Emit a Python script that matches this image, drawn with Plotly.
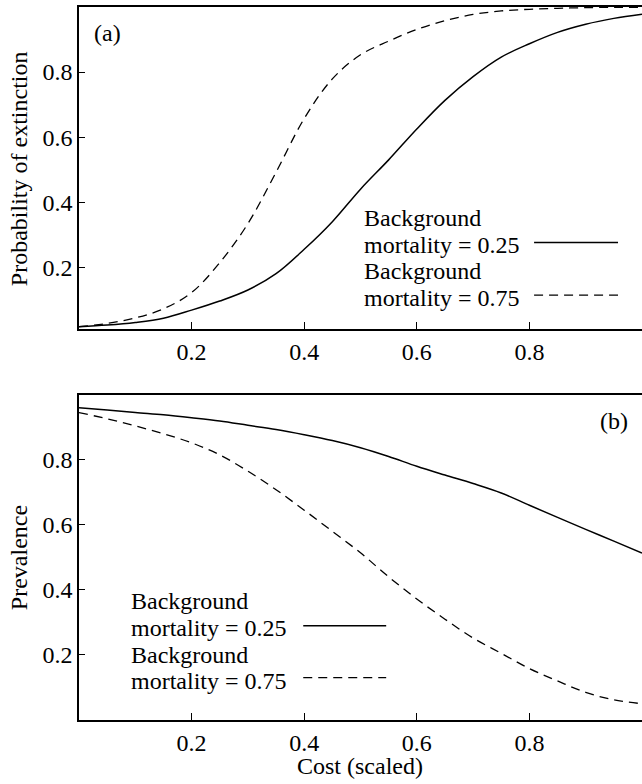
import plotly.graph_objects as go

# ---------------- data ----------------
cost = [0, 0.05, 0.1, 0.15, 0.2, 0.25, 0.3, 0.35, 0.4, 0.45, 0.5,
        0.55, 0.6, 0.65, 0.7, 0.75, 0.8, 0.85, 0.9, 0.95, 1.0]

ext_m025 = [0.017, 0.022, 0.030, 0.043, 0.068, 0.096, 0.130, 0.180, 0.255, 0.340, 0.440,
            0.530, 0.625, 0.713, 0.786, 0.846, 0.887, 0.922, 0.947, 0.965, 0.978]
ext_m075 = [0.017, 0.027, 0.044, 0.072, 0.122, 0.214, 0.334, 0.492, 0.657, 0.779, 0.853,
            0.895, 0.931, 0.958, 0.977, 0.988, 0.993, 0.996, 0.998, 0.999, 0.999]

prev_m025 = [0.960, 0.953, 0.945, 0.938, 0.929, 0.919, 0.906, 0.893, 0.877, 0.859, 0.837,
             0.810, 0.780, 0.753, 0.727, 0.698, 0.660, 0.623, 0.586, 0.550, 0.513]
prev_m075 = [0.945, 0.926, 0.904, 0.880, 0.852, 0.815, 0.765, 0.708, 0.645, 0.580, 0.514,
             0.440, 0.372, 0.310, 0.252, 0.205, 0.158, 0.120, 0.085, 0.062, 0.050]

series_names = ["Background<br>mortality = 0.25", "Background<br>mortality = 0.75"]
tick_vals = [0.2, 0.4, 0.6, 0.8]
tick_text = ["0.2", "0.4", "0.6", "0.8"]
y_titles = ["Probability of extinction", "Prevalence"]
x_title = "Cost (scaled)"
panel_labels = ["(a)", "(b)"]

# ---------------- layout constants (pixels) ----------------
W, H = 642, 784
L, R, T, B = 78.6, 0, 7.3, 63.7
PW = W - L - R
PH = H - T - B
FONT = "Liberation Serif"
FS = 24
DASH = "9px,6px"


def px_x(px):
    return (px - L) / PW


def px_y(py):
    return (H - B - py) / PH


top_dom = [px_y(329.3), 1.0]
bot_dom = [0.0, px_y(395.0)]

fig = go.Figure()

solid = dict(color="black", width=1.5)
dashed = dict(color="black", width=1.3, dash=DASH)

fig.add_trace(go.Scatter(x=cost, y=ext_m025, mode="lines", line=dict(**solid, shape="spline"),
                         xaxis="x", yaxis="y", showlegend=False))
fig.add_trace(go.Scatter(x=cost, y=ext_m075, mode="lines", line=dict(**dashed, shape="spline"),
                         xaxis="x", yaxis="y", showlegend=False))
fig.add_trace(go.Scatter(x=cost, y=prev_m025, mode="lines", line=dict(**solid, shape="spline"),
                         xaxis="x2", yaxis="y2", showlegend=False))
fig.add_trace(go.Scatter(x=cost, y=prev_m075, mode="lines", line=dict(**dashed, shape="spline"),
                         xaxis="x2", yaxis="y2", showlegend=False))

axis_common = dict(
    showgrid=False, zeroline=False, showline=True, linecolor="black", linewidth=1.5,
    ticks="inside", tickcolor="black", tickwidth=1.3,
    tickfont=dict(family=FONT, size=FS, color="black"),
)

fig.update_layout(
    width=W, height=H,
    margin=dict(l=L, r=R, t=T, b=B),
    paper_bgcolor="white", plot_bgcolor="white",
    font=dict(family=FONT, size=FS, color="black"),
    xaxis=dict(**axis_common, domain=[0, 1], range=[0, 1], anchor="y", mirror=True,
               tickvals=tick_vals, ticktext=tick_text, ticklen=7),
    yaxis=dict(**axis_common, domain=top_dom, range=[0.01, 1.0], anchor="x",
               tickvals=tick_vals, ticktext=tick_text, ticklen=6),
    xaxis2=dict(**axis_common, domain=[0, 1], range=[0, 1], anchor="y2", mirror=True,
                tickvals=tick_vals, ticktext=tick_text, ticklen=7),
    yaxis2=dict(**axis_common, domain=bot_dom, range=[0, 1.0], anchor="x2",
                tickvals=tick_vals, ticktext=tick_text, ticklen=6),
)

txt_font = dict(family=FONT, size=FS, color="black")

# axis titles
fig.add_annotation(text=y_titles[0], xref="paper", yref="paper", x=px_x(18.5), y=px_y(168.5),
                   textangle=-90, xanchor="center", yanchor="middle", showarrow=False, font=txt_font)
fig.add_annotation(text=y_titles[1], xref="paper", yref="paper", x=px_x(18.5), y=px_y(557.5),
                   textangle=-90, xanchor="center", yanchor="middle", showarrow=False, font=txt_font)
fig.add_annotation(text=x_title, xref="paper", yref="paper", x=px_x(360), y=px_y(766),
                   xanchor="center", yanchor="middle", showarrow=False, font=txt_font)

# panel labels
fig.add_annotation(text=panel_labels[0], xref="paper", yref="paper", x=px_x(92), y=px_y(33),
                   xanchor="left", yanchor="middle", showarrow=False, font=txt_font)
fig.add_annotation(text=panel_labels[1], xref="paper", yref="paper", x=px_x(630), y=px_y(421),
                   xanchor="right", yanchor="middle", showarrow=False, font=txt_font)

# hand-drawn keys (text left, line sample right)
keys = [
    (361.5, 218.3, 534, 618, 242.7, series_names[0], None),
    (361.5, 271.7, 534, 618, 295.5, series_names[1], DASH),
    (129.0, 601.7, 303, 386, 626.0, series_names[0], None),
    (129.0, 655.0, 303, 386, 678.0, series_names[1], DASH),
]
for tx, ty, lx0, lx1, ly, name, dash in keys:
    lines = name.split("<br>")
    for i, ln in enumerate(lines):
        fig.add_annotation(text=ln, xref="paper", yref="paper", x=px_x(tx), y=px_y(ty + 26.7 * i),
                           xanchor="left", yanchor="middle", showarrow=False, font=txt_font)
    fig.add_shape(type="line", xref="paper", yref="paper",
                  x0=px_x(lx0), x1=px_x(lx1), y0=px_y(ly), y1=px_y(ly),
                  line=dict(color="black", width=1.5 if dash is None else 1.3, dash=dash or "solid"))

fig.write_html("out.html",
               config={"displayModeBar": False},
               post_script="document.body.style.margin='0';document.body.style.overflow='hidden';")
